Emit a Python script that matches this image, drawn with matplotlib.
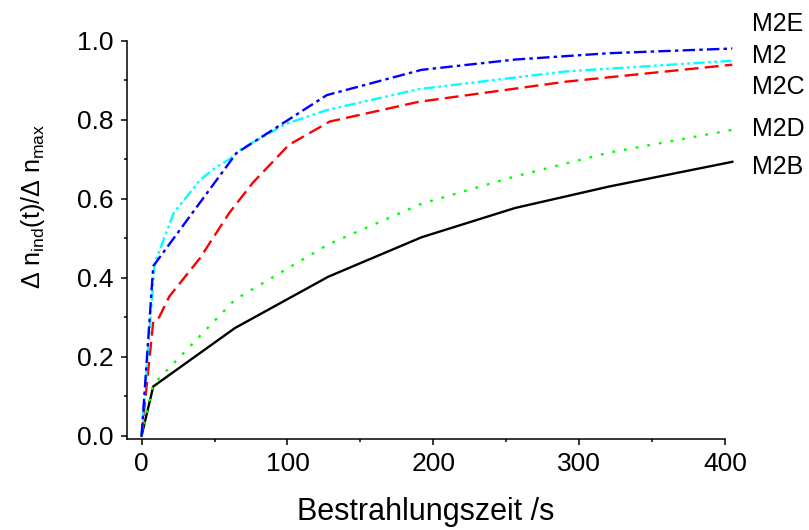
import numpy as np
import matplotlib
matplotlib.use("Agg")
from matplotlib import pyplot as plt
from matplotlib.ticker import MultipleLocator

plt.rcParams["font.family"] = ["Liberation Sans", "DejaVu Sans"]
plt.rcParams["mathtext.fontset"] = "custom"
plt.rcParams["mathtext.rm"] = "Liberation Sans"
plt.rcParams["mathtext.it"] = "Liberation Sans"
plt.rcParams["lines.scale_dashes"] = False

# (t in s, normalised index change)
t_m2 = [0, 8, 65, 127, 192, 256, 320, 405]
y_m2 = [0, 0.43, 0.716, 0.863, 0.927, 0.953, 0.969, 0.981]

t_m2e = [0, 9, 22, 40, 51, 60, 69, 99, 127, 190, 291, 405]
y_m2e = [0, 0.437, 0.564, 0.648, 0.680, 0.700, 0.728, 0.790, 0.825, 0.878, 0.923, 0.950]

t_m2c = [0, 8, 12, 19, 40, 60, 76, 101, 129, 190, 291, 405]
y_m2c = [0, 0.29, 0.30, 0.353, 0.450, 0.564, 0.640, 0.737, 0.796, 0.846, 0.897, 0.940]

t_m2d = [0, 8, 64, 128, 192, 256, 320, 405]
y_m2d = [0, 0.13, 0.345, 0.485, 0.588, 0.657, 0.717, 0.775]

t_m2b = [0, 8, 64, 128, 192, 256, 320, 405]
y_m2b = [0, 0.125, 0.273, 0.403, 0.503, 0.577, 0.631, 0.694]

labels = ["M2E", "M2", "M2C", "M2D", "M2B"]
label_y = [24, 56, 87, 129, 167]  # pixel rows of the end labels

fig = plt.figure(figsize=(8.09, 5.30), dpi=100)
ax = fig.add_axes([127 / 809, 1 - 439 / 530, 598 / 809, 398 / 530])

lw = 1.7
ax.plot(t_m2b, y_m2b, color="black", lw=lw, clip_on=False)
ax.plot(t_m2d, y_m2d, color="#00ff00", lw=lw, dashes=(2, 6.5), clip_on=False)
ax.plot(t_m2c, y_m2c, color="red", lw=lw, dashes=(10, 4.5), clip_on=False)
ax.plot(t_m2e, y_m2e, color="cyan", lw=lw, dashes=(8, 2.5, 2, 2.5, 2, 2.5), clip_on=False)
ax.plot(t_m2, y_m2, color="blue", lw=lw, dashes=(9, 3, 2.5, 3), clip_on=False)

ax.set_xlim(-10, 400)
ax.set_ylim(-0.008, 1.0)
ax.xaxis.set_major_locator(MultipleLocator(100))
ax.xaxis.set_minor_locator(MultipleLocator(50))
ax.yaxis.set_major_locator(MultipleLocator(0.2))
ax.yaxis.set_minor_locator(MultipleLocator(0.1))
ax.yaxis.set_major_formatter(matplotlib.ticker.FormatStrFormatter("%.1f"))

for s in ["top", "right"]:
    ax.spines[s].set_visible(False)
for s in ["left", "bottom"]:
    ax.spines[s].set_linewidth(1.1)

ax.tick_params(which="major", direction="out", length=4.5, width=1.1)
ax.tick_params(which="minor", direction="out", length=2.5, width=1.1)
ax.tick_params(axis="x", labelsize=19, pad=5)
ax.tick_params(axis="y", labelsize=19, pad=5)

ax.set_xlabel("Bestrahlungszeit /s", fontsize=22)
ax.xaxis.set_label_coords(0.5, -0.146)
ax.set_ylabel(r"$\Delta$ n$_{\rm ind}$(t)/$\Delta$ n$_{\rm max}$", fontsize=18)
ax.yaxis.set_label_coords(-0.134, 0.583)

for lab, py in zip(labels, label_y):
    fig.text(752 / 809, 1 - py / 530, lab, fontsize=18, va="center", ha="left")

fig.savefig("out.png", dpi=100)
